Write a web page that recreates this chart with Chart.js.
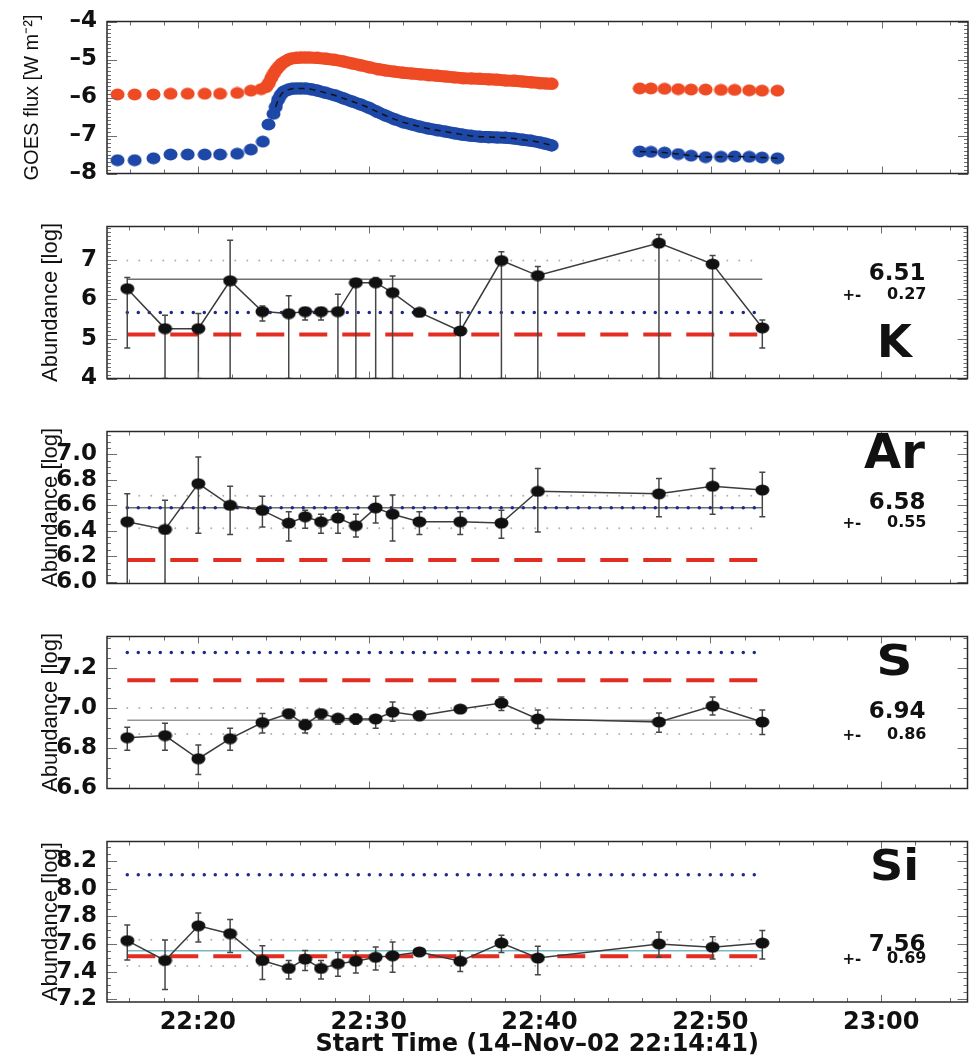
<!DOCTYPE html>
<html>
<head>
<meta charset="utf-8">
<script src="https://cdn.jsdelivr.net/npm/chart.js@4.4.1/dist/chart.umd.min.js"></script>
<style>
  html, body { margin: 0; padding: 0; background: #fff; }
  body { width: 976px; height: 1057px; position: relative; overflow: hidden; }
  canvas { position: absolute; left: 0; }
</style>
</head>
<body>
<canvas id="goes" width="976" height="195" style="top:0px"></canvas>
<canvas id="k" width="976" height="195" style="top:205px"></canvas>
<canvas id="ar" width="976" height="195" style="top:410px"></canvas>
<canvas id="s" width="976" height="195" style="top:615px"></canvas>
<canvas id="si" width="976" height="237" style="top:820px"></canvas>
<script>
// time axis, minutes after 22:00 UT
const tStart = 14 + 41 / 60;   // 22:14:41
const tEnd = 65.05;
const timeTicks = [20, 30, 40, 50, 60];
const timeLabels = ['22:20', '22:30', '22:40', '22:50', '23:00'];

// GOES long channel (red) and short channel (blue), log flux
const goesLongT = [15.3, 16.3, 17.4, 18.4, 19.4, 20.4, 21.3, 22.3, 23.1, 23.7,
  24.0, 24.15, 24.3, 24.45, 24.6, 24.75, 24.9, 25.1, 25.3, 25.5,
  25.75, 26.0, 26.25, 26.5, 27.0, 27.5, 28.0, 28.5, 29.0, 29.5,
  30.0, 30.5, 31.0, 31.5, 32.0, 32.5, 33.0, 33.5, 34.0, 34.5,
  35.0, 35.5, 36.0, 36.5, 37.0, 37.5, 38.0, 38.5, 39.0, 39.5,
  40.0, 40.35, 40.7,
  45.85, 46.5, 47.3, 48.1, 48.85, 49.7, 50.6, 51.4, 52.25, 53.0, 53.9];
const goesLongV = [-5.92, -5.92, -5.92, -5.90, -5.90, -5.90, -5.90, -5.88, -5.82, -5.78,
  -5.72, -5.62, -5.48, -5.36, -5.26, -5.18, -5.11, -5.05, -5.00, -4.97,
  -4.96, -4.95, -4.95, -4.95, -4.96, -4.98, -5.01, -5.05, -5.10, -5.15,
  -5.20, -5.25, -5.29, -5.32, -5.35, -5.37, -5.39, -5.41, -5.43, -5.45,
  -5.47, -5.49, -5.50, -5.51, -5.52, -5.53, -5.55, -5.56, -5.58, -5.60,
  -5.62, -5.63, -5.64,
  -5.76, -5.76, -5.77, -5.78, -5.79, -5.79, -5.80, -5.80, -5.81, -5.82, -5.82];
const goesShortT = [15.3, 16.3, 17.4, 18.4, 19.4, 20.4, 21.3, 22.3, 23.1, 23.8,
  24.13, 24.42, 24.55, 24.7, 24.85, 25.0, 25.25, 25.5, 25.75, 26.0,
  26.3, 26.6, 27.0, 27.5, 28.0, 28.5, 29.0, 29.5, 30.0, 30.5,
  31.0, 31.5, 32.0, 32.5, 33.0, 33.5, 34.0, 34.5, 35.0, 35.5,
  36.0, 36.5, 37.0, 37.5, 38.0, 38.5, 39.0, 39.5, 40.0, 40.35, 40.7,
  45.85, 46.5, 47.3, 48.1, 48.85, 49.7, 50.6, 51.4, 52.25, 53.0, 53.9];
const goesShortV = [-7.65, -7.65, -7.60, -7.50, -7.50, -7.50, -7.50, -7.48, -7.37, -7.16,
  -6.71, -6.43, -6.25, -6.05, -5.93, -5.85, -5.80, -5.77, -5.76, -5.76,
  -5.76, -5.78, -5.82, -5.88, -5.94, -6.02, -6.10, -6.18, -6.27, -6.38,
  -6.48, -6.57, -6.65, -6.71, -6.77, -6.82, -6.86, -6.90, -6.94, -6.98,
  -7.01, -7.03, -7.04, -7.05, -7.06, -7.08, -7.11, -7.14, -7.18, -7.22, -7.26,
  -7.42, -7.43, -7.45, -7.49, -7.53, -7.57, -7.56, -7.55, -7.56, -7.58, -7.60];
const goesTicks = [-8, -7, -6, -5, -4];

// abundance measurement times (minutes after 22:00)
const abTime = [15.87, 18.08, 20.03, 21.89, 23.78, 25.32, 26.28, 27.21, 28.20, 29.25,
  30.41, 31.40, 32.97, 35.36, 37.77, 39.90, 46.99, 50.13, 53.04];

// K
const kVal = [6.27, 5.26, 5.26, 6.47, 5.69, 5.64, 5.69, 5.69, 5.69, 6.42, 6.42, 6.17, 5.67, 5.20, 6.98, 6.60, 7.42, 6.89, 5.28];
const kHi = [6.55, 5.60, 5.64, 7.49, 5.83, 6.09, 5.79, 5.79, 6.13, 6.50, 6.55, 6.59, 5.77, 5.67, 7.20, 6.83, 7.64, 7.11, 5.48];
const kLo = [4.77, 4.0, 4.0, 4.0, 5.45, 4.0, 5.48, 5.48, 4.0, 4.0, 4.0, 4.0, 5.57, 4.0, 4.0, 4.0, 4.0, 4.0, 4.77];
const kTicks = [4, 5, 6, 7];
const kRef = [5.67, 5.11, 6.51];   // coronal (blue dots), photospheric (red dashes), mean
const kSpread = [6.98];

// Ar
const arVal = [6.47, 6.41, 6.77, 6.60, 6.56, 6.46, 6.51, 6.47, 6.50, 6.44, 6.58, 6.53, 6.47, 6.47, 6.46, 6.71, 6.69, 6.75, 6.72];
const arHi = [6.69, 6.64, 6.98, 6.75, 6.67, 6.55, 6.56, 6.53, 6.56, 6.53, 6.67, 6.68, 6.55, 6.55, 6.56, 6.89, 6.81, 6.89, 6.86];
const arLo = [5.98, 5.98, 6.38, 6.37, 6.43, 6.32, 6.42, 6.38, 6.38, 6.35, 6.46, 6.32, 6.37, 6.37, 6.34, 6.39, 6.51, 6.53, 6.51];
const arTicks = [6.0, 6.2, 6.4, 6.6, 6.8, 7.0];
const arRef = [6.58, 6.17, 6.58];
const arSpread = [6.42, 6.675];

// S
const sVal = [6.853, 6.863, 6.748, 6.848, 6.928, 6.973, 6.916, 6.973, 6.949, 6.946, 6.946, 6.98, 6.962, 6.995, 7.025, 6.946, 6.931, 7.01, 6.931];
const sHi = [6.905, 6.925, 6.816, 6.90, 6.973, 6.99, 6.943, 6.986, 6.97, 6.97, 6.96, 7.03, 6.986, 7.005, 7.055, 6.991, 6.976, 7.055, 6.99];
const sLo = [6.79, 6.79, 6.67, 6.79, 6.876, 6.95, 6.876, 6.946, 6.92, 6.92, 6.90, 6.934, 6.94, 6.985, 6.988, 6.898, 6.88, 6.965, 6.868];
const sTicks = [6.6, 6.8, 7.0, 7.2];
const sRef = [7.276, 7.138, 6.94];
const sSpread = [6.871, 7.0];

// Si
const siVal = [7.624, 7.48, 7.731, 7.674, 7.48, 7.423, 7.49, 7.423, 7.457, 7.475, 7.503, 7.514, 7.542, 7.475, 7.606, 7.498, 7.60, 7.576, 7.606];
const siHi = [7.736, 7.628, 7.823, 7.777, 7.587, 7.48, 7.553, 7.48, 7.537, 7.549, 7.578, 7.613, 7.56, 7.549, 7.663, 7.583, 7.686, 7.652, 7.697];
const siLo = [7.484, 7.27, 7.613, 7.537, 7.343, 7.347, 7.407, 7.347, 7.366, 7.389, 7.411, 7.395, 7.53, 7.40, 7.537, 7.377, 7.503, 7.49, 7.49];
const siTicks = [7.2, 7.4, 7.6, 7.8, 8.0, 8.2];
const siRef = [8.10, 7.51, 7.55];
const siSpread = [7.44, 7.63];

const goesRed = 'rgb(238,74,36)';
const goesBlue = 'rgb(30,72,168)';

// filled ellipse used as marker
function dot(w, h, color) {
  const c = document.createElement('canvas');
  c.width = w; c.height = h;
  const g = c.getContext('2d');
  g.fillStyle = color;
  g.beginPath();
  g.ellipse(w / 2, h / 2, w / 2 - 0.5, h / 2 - 0.5, 0, 0, Math.PI * 2);
  g.fill();
  return c;
}
const redDot = dot(15, 13, goesRed);
const blueDot = dot(15, 13, goesBlue);
const blackDot = dot(15, 12, '#111');

// box with inward ticks, IDL style
const framePlugin = {
  id: 'idlFrame',
  afterDatasetsDraw(chart, args, o) {
    const {ctx, chartArea: a, scales: {x, y}} = chart;
    ctx.save();
    ctx.lineWidth = 1;
    ctx.strokeStyle = 'rgb(110,110,110)';
    ctx.beginPath();
    for (let i = Math.ceil(y.min / o.yMinor - 1e-6); i * o.yMinor <= y.max + 1e-9; i++) {
      const v = i * o.yMinor;
      const py = Math.round(y.getPixelForValue(v)) + 0.5;
      const r = v / o.yMajor;
      const len = Math.abs(r - Math.round(r)) < 1e-6 ? 10 : 4;
      ctx.moveTo(a.left, py); ctx.lineTo(a.left + len, py);
      ctx.moveTo(a.right, py); ctx.lineTo(a.right - len, py);
    }
    for (let i = Math.ceil(x.min / 2); i * 2 <= x.max; i++) {
      const v = i * 2;
      const px = Math.round(x.getPixelForValue(v)) + 0.5;
      const len = v % 10 === 0 ? 7 : 4;
      ctx.moveTo(px, a.top); ctx.lineTo(px, a.top + len);
      ctx.moveTo(px, a.bottom); ctx.lineTo(px, a.bottom - len);
    }
    ctx.stroke();
    ctx.strokeStyle = 'rgb(40,40,40)';
    ctx.lineWidth = 1.5;
    ctx.strokeRect(a.left, a.top, a.width, a.height);
    ctx.restore();
  }
};

// vertical error bars, drawn just before the measured points
const errorBarPlugin = {
  id: 'errBars',
  beforeDatasetDraw(chart, args) {
    const ds = chart.data.datasets[args.index];
    if (!ds.errHi) return;
    const {ctx, chartArea: a, scales: {x, y}} = chart;
    ctx.save();
    ctx.beginPath();
    ctx.rect(a.left, a.top, a.width, a.height);
    ctx.clip();
    ctx.strokeStyle = 'rgb(70,70,70)';
    ctx.lineWidth = 1.5;
    ds.data.forEach((p, i) => {
      const px = x.getPixelForValue(p.x);
      const top = y.getPixelForValue(ds.errHi[i]);
      const bot = y.getPixelForValue(ds.errLo[i]);
      ctx.beginPath();
      ctx.moveTo(px, top); ctx.lineTo(px, bot);
      ctx.moveTo(px - 3, top); ctx.lineTo(px + 3, top);
      ctx.moveTo(px - 3, bot); ctx.lineTo(px + 3, bot);
      ctx.stroke();
    });
    ctx.restore();
  }
};

// element name, mean and spread written at the right
const notePlugin = {
  id: 'note',
  afterDraw(chart, args, o) {
    if (!o.name) return;
    const {ctx, chartArea: a} = chart;
    const yAt = f => a.top + f * a.height;
    ctx.save();
    ctx.fillStyle = '#111';
    ctx.textBaseline = 'middle';

    ctx.save();
    ctx.font = 'bold ' + o.nameSize + 'px "DejaVu Sans"';
    ctx.textAlign = 'center';
    ctx.translate(a.right - 73, yAt(o.nameY));
    ctx.scale(o.stretch || 1, 1);
    ctx.fillText(o.name, 0, 0);
    ctx.restore();

    ctx.textAlign = 'right';
    ctx.font = 'bold 23px "DejaVu Sans"';
    ctx.fillText(o.mean, a.right - 42, yAt(o.meanY));
    ctx.font = 'bold 16px "DejaVu Sans"';
    ctx.fillText(o.std, a.right - 41, yAt(o.stdY));
    ctx.textAlign = 'left';
    ctx.font = 'bold 15px "DejaVu Sans"';
    ctx.fillText('+-', a.right - 125, yAt(o.stdY) + 1);
    ctx.restore();
  }
};

Chart.register(framePlugin, errorBarPlugin, notePlugin);

const tickFont = {family: 'DejaVu Sans', weight: 'bold', size: 23, lineHeight: 1};

function xScale(show) {
  const sc = {
    type: 'linear', min: tStart, max: tEnd, display: show,
    grid: {display: false, drawTicks: false},
    border: {display: false},
    afterBuildTicks: s => { s.ticks = timeTicks.map(v => ({value: v})); },
    ticks: {
      autoSkip: false, maxRotation: 0, padding: 9, color: '#111',
      font: {family: 'DejaVu Sans', weight: 'bold', size: 24, lineHeight: 1},
      callback: (v, i) => timeLabels[i]
    },
    title: {
      display: show, text: 'Start Time (14\u2013Nov\u201302 22:14:41)', color: '#111',
      font: {family: 'DejaVu Sans', weight: 'bold', size: 24, lineHeight: 1},
      padding: {top: 0, bottom: 0}
    }
  };
  if (show) sc.afterFit = s => { s.height = 55; };
  return sc;
}

function yScale(min, max, ticks, fmt, title, titleSize, titlePad) {
  return {
    type: 'linear', min: min, max: max,
    grid: {display: false, drawTicks: false},
    border: {display: false},
    afterBuildTicks: s => { s.ticks = ticks.map(v => ({value: v})); },
    ticks: {padding: 10, color: '#111', font: tickFont, callback: fmt},
    title: {
      display: true, text: title, color: '#111',
      font: {family: 'Liberation Sans', size: titleSize, lineHeight: 1},
      padding: {top: titlePad, bottom: 0}
    },
    afterFit: s => { s.width = 107; }
  };
}

function pts(tArr, vArr) {
  return tArr.map((t, i) => ({x: t, y: vArr[i]}));
}

function hline(v, style) {
  return Object.assign({
    data: [{x: abTime[0], y: v}, {x: abTime[abTime.length - 1], y: v}],
    showLine: true, pointRadius: 0, fill: false
  }, style);
}

const blueDots = {borderColor: 'rgb(30,40,140)', borderWidth: 3.5, borderDash: [0, 11], borderCapStyle: 'round'};
const redDash = {borderColor: 'rgb(226,45,35)', borderWidth: 4, borderDash: [28, 15], borderCapStyle: 'butt'};
const greyDots = {borderColor: 'rgb(175,175,175)', borderWidth: 2, borderDash: [0, 12], borderCapStyle: 'round'};

function baseOptions(pad, yOpts, showX, frame, note) {
  return {
    responsive: false,
    animation: false,
    events: [],
    layout: {padding: pad},
    scales: {x: xScale(showX), y: yOpts},
    plugins: {
      legend: {display: false},
      tooltip: {enabled: false},
      idlFrame: frame,
      note: note || {}
    }
  };
}

// GOES panel: dots, plus a thick band where the 3 s samples merge
const blueSeries = pts(goesShortT, goesShortV);
const redSeries = pts(goesLongT, goesLongV);
const band = (data, color) => ({
  data: data, showLine: true, pointRadius: 0, borderColor: color, borderWidth: 12,
  borderCapStyle: 'round', borderJoinStyle: 'round'
});
const dashed = data => ({
  data: data, showLine: true, pointRadius: 0, borderColor: '#111', borderWidth: 1.5, borderDash: [6, 5]
});
new Chart('goes', {
  type: 'scatter',
  data: {
    datasets: [
      dashed(blueSeries.filter(p => p.x >= 24.5 && p.x < 42)),
      dashed(blueSeries.filter(p => p.x > 44)),
      {data: blueSeries, pointStyle: blueDot, pointRadius: 7},
      band(blueSeries.filter(p => p.x >= 24.5 && p.x < 42), goesBlue),
      {data: redSeries, pointStyle: redDot, pointRadius: 7},
      band(redSeries.filter(p => p.x >= 24.0 && p.x < 42), goesRed)
    ]
  },
  options: baseOptions({top: 13, bottom: 13, left: 0, right: 3},
    yScale(-8, -4, goesTicks, v => (v < 0 ? '\u2013' : '') + Math.abs(v),
      'GOES flux [W m\u207B\u00B2]', 20, 22),
    false, {yMinor: 0.1, yMajor: 1})
});

function abundancePanel(id, pad, showX, yOpts, vals, hi, lo, ref, spread, meanColor, frame, note) {
  const ds = [{
    data: pts(abTime, vals), errHi: hi, errLo: lo,
    showLine: true, borderColor: 'rgb(60,60,60)', borderWidth: 1.5,
    pointStyle: blackDot, pointRadius: 7
  }];
  ds.push(hline(ref[0], blueDots));
  ds.push(hline(ref[2], {borderColor: meanColor, borderWidth: 1.5}));
  ds.push(hline(ref[1], redDash));
  spread.forEach(v => ds.push(hline(v, greyDots)));
  new Chart(id, {
    type: 'scatter',
    data: {datasets: ds},
    options: baseOptions(pad, yOpts, showX, frame, note)
  });
}

const fmt1 = v => v.toFixed(1);
const padMid = {top: 13, bottom: 13, left: 0, right: 3};

abundancePanel('k', padMid, false,
  yScale(4.0, 7.84, kTicks, v => String(v), 'Abundance [log]', 22, 40),
  kVal, kHi, kLo, kRef, kSpread, 'rgb(110,110,110)', {yMinor: 0.1, yMajor: 1},
  {name: 'K', nameSize: 45, nameY: 0.78, mean: '6.51', meanY: 0.31, std: '0.27', stdY: 0.45});

abundancePanel('ar', padMid, false,
  yScale(5.985, 7.18, arTicks, fmt1, 'Abundance [log]', 22, 40),
  arVal, arHi, arLo, arRef, arSpread, 'rgb(110,110,110)', {yMinor: 0.05, yMajor: 0.2},
  {name: 'Ar', nameSize: 48, nameY: 0.16, mean: '6.58', meanY: 0.47, std: '0.55', stdY: 0.60});

abundancePanel('s', padMid, false,
  yScale(6.6, 7.356, sTicks, fmt1, 'Abundance [log]', 22, 40),
  sVal, sHi, sLo, sRef, sSpread, 'rgb(150,150,150)', {yMinor: 0.05, yMajor: 0.2},
  {name: 'S', nameSize: 42, stretch: 1.2, nameY: 0.18, mean: '6.94', meanY: 0.50, std: '0.86', stdY: 0.65});

abundancePanel('si', {top: 13, bottom: 0, left: 0, right: 3}, true,
  yScale(7.18, 8.34, siTicks, fmt1, 'Abundance [log]', 22, 40),
  siVal, siHi, siLo, siRef, siSpread, 'rgb(120,185,195)', {yMinor: 0.05, yMajor: 0.2},
  {name: 'Si', nameSize: 42, stretch: 1.1, nameY: 0.17, mean: '7.56', meanY: 0.645, std: '0.69', stdY: 0.73});
</script>
</body>
</html>
